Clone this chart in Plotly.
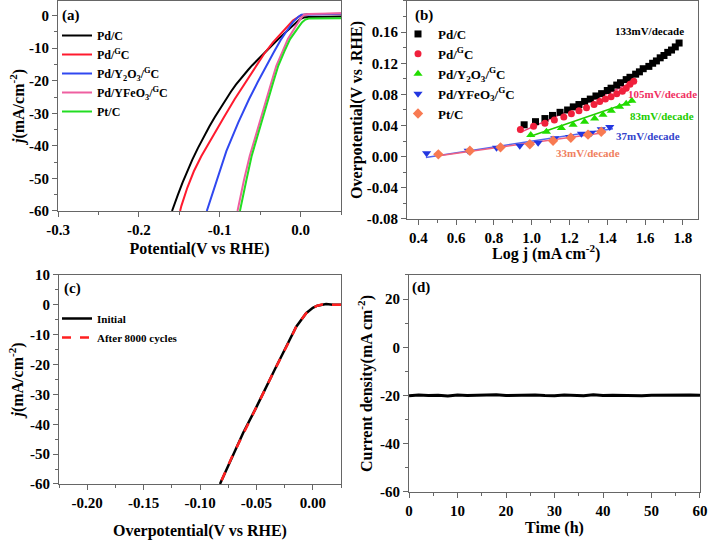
import plotly.graph_objects as go

FONT = "Liberation Serif"

# ---------------- Panel (a): polarization curves ----------------
a_pdc_v = [0.05, 0.03, 0.01, 0.004, 0.0, -0.004, -0.0095, -0.015, -0.020, -0.025, -0.030, -0.035, -0.040, -0.045,
           -0.0507, -0.055, -0.060, -0.065, -0.0713, -0.080, -0.086, -0.0919, -0.100, -0.106, -0.1125, -0.120,
           -0.127, -0.134, -0.140, -0.146, -0.152, -0.158, -0.159]
a_pdc_j = [-0.3, -0.3, -0.4, -0.6, -1.0, -1.8, -3.0, -4.3, -5.5, -6.6, -7.8, -9.0, -10.2, -11.4,
           -12.8, -13.9, -15.3, -16.7, -18.5, -21.2, -23.3, -25.5, -28.6, -31.1, -33.9, -37.3,
           -40.7, -44.3, -47.7, -51.3, -55.2, -59.4, -60]

a_pdgc_v = [0.05, 0.02, 0.008, 0.002, -0.002, -0.0095, -0.0198, -0.0342, -0.045, -0.0548, -0.068, -0.0816,
            -0.095, -0.109, -0.1228, -0.132, -0.140, -0.1475, -0.149]
a_pdgc_j = [0.6, 0.5, 0.4, 0.2, -0.3, -1.5, -4.2, -8.2, -11.7, -15.4, -20.4, -25.7,
            -31.3, -37.1, -43.2, -47.8, -52.8, -58.5, -60]

a_y2o3_v = [0.05, 0.02, 0.006, 0.001, -0.003, -0.0095, -0.0165, -0.0239, -0.033, -0.0424, -0.053, -0.0638,
            -0.077, -0.0918, -0.103, -0.1146, -0.116]
a_y2o3_j = [0.6, 0.5, 0.5, 0.3, -0.4, -2.0, -4.5, -7.2, -11.2, -15.4, -20.4, -25.7,
            -32.8, -41.6, -49.8, -59.0, -60]

a_yfeo3_v = [0.05, 0.02, 0.010, 0.004, 0.000, -0.0053, -0.010, -0.0157, -0.022, -0.030, -0.036, -0.0424,
             -0.052, -0.063, -0.070, -0.0766, -0.078]
a_yfeo3_j = [0.7, 0.6, 0.5, 0.2, -1.0, -3.0, -4.8, -7.2, -10.8, -15.4, -20.4, -25.7,
             -34.0, -43.2, -50.5, -58.8, -60]

a_ptc_v = [0.05, 0.02, 0.010, 0.006, 0.002, -0.001, -0.006, -0.013, -0.020, -0.0276, -0.034, -0.040,
           -0.050, -0.0606, -0.067, -0.0733, -0.075]
a_ptc_j = [-0.8, -0.8, -0.9, -1.2, -2.0, -3.0, -4.8, -7.2, -11.0, -15.4, -20.6, -25.7,
           -34.1, -43.2, -50.5, -58.8, -60]

a_xtickvals = [-0.3, -0.2, -0.1, 0.0]
a_xticktext = ["-0.3", "-0.2", "-0.1", "0.0"]
a_ytickvals = [0, -10, -20, -30, -40, -50, -60]
a_yticktext = ["0", "-10", "-20", "-30", "-40", "-50", "-60"]

# ---------------- Panel (b): Tafel plots ----------------
b_pdc_x = [0.96, 1.02, 1.07, 1.11, 1.15, 1.19, 1.22, 1.25, 1.28, 1.31, 1.34, 1.37, 1.40, 1.42, 1.45,
           1.47, 1.50, 1.52, 1.55, 1.57, 1.59, 1.62, 1.64, 1.66, 1.68, 1.70, 1.72, 1.74, 1.76, 1.78]
b_pdc_y = [0.041, 0.045, 0.049, 0.053, 0.057, 0.060, 0.064, 0.067, 0.071, 0.074, 0.078, 0.081, 0.085, 0.088, 0.092,
           0.095, 0.099, 0.102, 0.106, 0.109, 0.113, 0.116, 0.120, 0.123, 0.127, 0.130, 0.134, 0.137, 0.141, 0.146]

b_pdgc_x = [0.94, 1.01, 1.07, 1.12, 1.17, 1.21, 1.25, 1.29, 1.33, 1.36, 1.39, 1.42, 1.45, 1.48, 1.50, 1.52, 1.54]
b_pdgc_y = [0.035, 0.039, 0.043, 0.047, 0.051, 0.055, 0.059, 0.063, 0.067, 0.071, 0.074, 0.077, 0.081, 0.084, 0.088, 0.093, 0.097]

b_y2o3_x = [0.995, 1.078, 1.157, 1.219, 1.280, 1.333, 1.377, 1.421, 1.465, 1.500, 1.530]
b_y2o3_y = [0.028, 0.032, 0.037, 0.041, 0.045, 0.049, 0.054, 0.059, 0.064, 0.068, 0.072]

b_yfeo3_x = [0.444, 0.664, 0.814, 0.937, 1.034, 1.122, 1.201, 1.263, 1.316, 1.368, 1.413]
b_yfeo3_y = [0.0044, 0.0077, 0.0116, 0.0142, 0.0180, 0.0236, 0.0253, 0.0296, 0.0309, 0.0351, 0.0380]

b_ptc_x = [0.506, 0.673, 0.835, 0.990, 1.113, 1.207, 1.298, 1.368]
b_ptc_y = [0.003, 0.0077, 0.012, 0.0159, 0.0204, 0.0244, 0.0283, 0.0321]

# fitted lines (end points)
b_fit_pdgc_x = [0.937, 1.536]
b_fit_pdgc_y = [0.031, 0.096]
b_fit_y2o3_x = [0.99, 1.53]
b_fit_y2o3_y = [0.026, 0.071]
b_fit_yfeo3_x = [0.44, 1.43]
b_fit_yfeo3_y = [-0.001, 0.036]
b_fit_ptc_x = [0.50, 1.39]
b_fit_ptc_y = [0.001, 0.031]

b_slope_labels = ["133mV/decade", "105mV/decade", "83mV/decade", "37mV/decade", "33mV/decade"]
b_slope_x = [1.624, 1.69, 1.69, 1.616, 1.30]
b_slope_y = [0.1616, 0.080, 0.0523, 0.0266, 0.0050]

b_xtickvals = [0.4, 0.6, 0.8, 1.0, 1.2, 1.4, 1.6, 1.8]
b_xticktext = ["0.4", "0.6", "0.8", "1.0", "1.2", "1.4", "1.6", "1.8"]
b_ytickvals = [-0.08, -0.04, 0.0, 0.04, 0.08, 0.12, 0.16]
b_yticktext = ["-0.08", "-0.04", "0.00", "0.04", "0.08", "0.12", "0.16"]

# ---------------- Panel (c): durability LSV ----------------
c_init_v = [0.025, 0.018, 0.0118, 0.008, 0.004, 0.0, -0.0059, -0.0147, -0.020, -0.0265, -0.0335, -0.0411,
            -0.051, -0.0618, -0.072, -0.0823]
c_init_j = [0.0, 0.0, 0.3, 0.1, -0.3, -1.0, -2.8, -7.3, -11.5, -16.2, -21.5, -27.4,
            -35.0, -42.9, -51.2, -60]
c_after_v = [0.025, 0.018, 0.0118, 0.008, 0.004, 0.0, -0.0059, -0.0147, -0.020, -0.0265, -0.0335, -0.0411,
             -0.051, -0.0618, -0.072, -0.0823]
c_after_j = [0.0, 0.0, 0.2, 0.1, -0.3, -1.0, -2.8, -7.3, -11.5, -16.2, -21.5, -27.4,
             -35.0, -42.9, -51.2, -60]

c_xtickvals = [-0.20, -0.15, -0.10, -0.05, 0.00]
c_xticktext = ["-0.20", "-0.15", "-0.10", "-0.05", "0.00"]
c_ytickvals = [10, 0, -10, -20, -30, -40, -50, -60]
c_yticktext = ["10", "0", "-10", "-20", "-30", "-40", "-50", "-60"]

# ---------------- Panel (d): chronoamperometry ----------------
d_time = [0, 2, 4, 6, 8, 10, 12, 14, 16, 18, 20, 22, 24, 26, 28, 30, 32, 34, 36, 38, 40, 42, 44, 46, 48, 50, 52, 54, 56, 58, 60]
d_current = [-20.1, -19.8, -20.0, -19.9, -20.2, -19.8, -20.0, -19.9, -20.1, -19.7, -20.0, -19.9, -20.1, -19.8, -20.0, -20.1,
             -19.8, -19.9, -20.1, -19.7, -20.0, -19.9, -20.0, -19.8, -20.1, -19.9, -19.8, -20.0, -19.9, -19.8, -19.9]

d_xtickvals = [0, 10, 20, 30, 40, 50, 60]
d_xticktext = ["0", "10", "20", "30", "40", "50", "60"]
d_ytickvals = [20, 0, -20, -40, -60]
d_yticktext = ["20", "0", "-20", "-40", "-60"]

# ------------------------------------------------------------
fig = go.Figure()

# panel a
fig.add_trace(go.Scatter(x=a_pdc_v, y=a_pdc_j, mode="lines", name="Pd/C",
                         line=dict(color="#000000", width=2), xaxis="x", yaxis="y", legend="legend"))
fig.add_trace(go.Scatter(x=a_pdgc_v, y=a_pdgc_j, mode="lines", name="Pd/<sup>G</sup>C",
                         line=dict(color="#ff1a2e", width=2), xaxis="x", yaxis="y", legend="legend"))
fig.add_trace(go.Scatter(x=a_y2o3_v, y=a_y2o3_j, mode="lines", name="Pd/Y<sub>2</sub>O<sub>3</sub>/<sup>G</sup>C",
                         line=dict(color="#3048f0", width=2), xaxis="x", yaxis="y", legend="legend"))
fig.add_trace(go.Scatter(x=a_yfeo3_v, y=a_yfeo3_j, mode="lines", name="Pd/YFeO<sub>3</sub>/<sup>G</sup>C",
                         line=dict(color="#ee5fa0", width=2), xaxis="x", yaxis="y", legend="legend"))
fig.add_trace(go.Scatter(x=a_ptc_v, y=a_ptc_j, mode="lines", name="Pt/C",
                         line=dict(color="#22dd22", width=2), xaxis="x", yaxis="y", legend="legend"))

# panel b fits
for fx, fy, col in [(b_fit_pdgc_x, b_fit_pdgc_y, "#f0407a"), (b_fit_y2o3_x, b_fit_y2o3_y, "#22cc00"),
                    (b_fit_yfeo3_x, b_fit_yfeo3_y, "#5566ee"), (b_fit_ptc_x, b_fit_ptc_y, "#f06080")]:
    fig.add_trace(go.Scatter(x=fx, y=fy, mode="lines", showlegend=False, line=dict(color=col, width=1.5),
                             xaxis="x2", yaxis="y2", hoverinfo="skip"))
# panel b markers
fig.add_trace(go.Scatter(x=b_pdc_x, y=b_pdc_y, mode="markers", name="Pd/C",
                         marker=dict(symbol="square", color="#000000", size=7), xaxis="x2", yaxis="y2", legend="legend2"))
fig.add_trace(go.Scatter(x=b_pdgc_x, y=b_pdgc_y, mode="markers", name="Pd/<sup>G</sup>C",
                         marker=dict(symbol="circle", color="#f0203c", size=7), xaxis="x2", yaxis="y2", legend="legend2"))
fig.add_trace(go.Scatter(x=b_y2o3_x, y=b_y2o3_y, mode="markers", name="Pd/Y<sub>2</sub>O<sub>3</sub>/<sup>G</sup>C",
                         marker=dict(symbol="triangle-up", color="#22dd00", size=8), xaxis="x2", yaxis="y2", legend="legend2"))
fig.add_trace(go.Scatter(x=b_yfeo3_x, y=b_yfeo3_y, mode="markers", name="Pd/YFeO<sub>3</sub>/<sup>G</sup>C",
                         marker=dict(symbol="triangle-down", color="#2236e0", size=8), xaxis="x2", yaxis="y2", legend="legend2"))
fig.add_trace(go.Scatter(x=b_ptc_x, y=b_ptc_y, mode="markers", name="Pt/C",
                         marker=dict(symbol="diamond", color="#f87a52", size=8), xaxis="x2", yaxis="y2", legend="legend2"))

# panel c
fig.add_trace(go.Scatter(x=c_init_v, y=c_init_j, mode="lines", name="Initial",
                         line=dict(color="#000000", width=2.5), xaxis="x3", yaxis="y3", legend="legend3"))
fig.add_trace(go.Scatter(x=c_after_v, y=c_after_j, mode="lines", name="After 8000 cycles",
                         line=dict(color="#ff2020", width=2.5, dash="dash"), xaxis="x3", yaxis="y3", legend="legend3"))

# panel d
fig.add_trace(go.Scatter(x=d_time, y=d_current, mode="lines", showlegend=False,
                         line=dict(color="#000000", width=3), xaxis="x4", yaxis="y4"))

# slope annotations in panel b
slope_colors = ["#000000", "#f03062", "#22cc00", "#3344cc", "#f08060"]
annotations = []
for t, x, y, c in zip(b_slope_labels, b_slope_x, b_slope_y, slope_colors):
    annotations.append(dict(text=t, x=x, y=y, xref="x2", yref="y2", showarrow=False,
                            font=dict(family=FONT, size=11, color=c, weight="bold")))

# panel letters
for t, px, py in [("(a)", 60, 15), ("(b)", 413, 15), ("(c)", 62, 288), ("(d)", 410, 287)]:
    annotations.append(dict(text=t, x=px / 710, y=1 - py / 541, xref="paper", yref="paper", showarrow=False,
                            xanchor="left", yanchor="middle",
                            font=dict(family=FONT, size=15, color="#000000", weight="bold")))

# x-axis title of panel (b), packed tightly under its tick labels as in the original
annotations.append(dict(text="Log j (mA cm<sup>-2</sup>)", x=546 / 710, y=1 - 253 / 541, xref="paper", yref="paper",
                        showarrow=False, xanchor="center", yanchor="middle",
                        font=dict(family=FONT, size=16, color="#000000", weight="bold")))

axis_common = dict(showline=True, linecolor="#666666", linewidth=1, mirror=True, ticks="outside",
                   ticklen=5, tickcolor="#666666", showgrid=False, zeroline=False, automargin=False,
                   tickfont=dict(family=FONT, size=15, color="#000000", weight="bold"),
                   minor=dict(ticks="outside", ticklen=3, tickcolor="#666666", showgrid=False))
title_font = dict(family=FONT, size=16, color="#000000", weight="bold")


def ax(domain, rng, tv, tt, dtick_minor, anchor, title, standoff):
    d = dict(axis_common)
    d.update(domain=domain, range=rng, tickvals=tv, ticktext=tt, anchor=anchor,
             title=dict(text=title, font=title_font, standoff=standoff))
    d["minor"] = dict(axis_common["minor"], dtick=dtick_minor, tick0=0)
    return d


fig.update_layout(
    width=710, height=541,
    margin=dict(l=0, r=0, t=0, b=0, autoexpand=False),
    paper_bgcolor="white", plot_bgcolor="white",
    font=dict(family=FONT, color="#000000", weight="bold"),
    xaxis=ax([0.0817, 0.4803], [-0.3, 0.05], a_xtickvals, a_xticktext, 0.05, "y", "Potential(V vs RHE)", 5),
    yaxis=ax([0.6100, 0.9982], [-60, 4.5], a_ytickvals, a_yticktext, 5, "x", "<i>j</i>(mA/cm<sup>-2</sup>)", 0),
    xaxis2=ax([0.5732, 0.9831], [0.34, 1.88], b_xtickvals, b_xticktext, 0.1, "y2", "", 0),
    yaxis2=ax([0.5952, 0.9982], [-0.08, 0.2], b_ytickvals, b_yticktext, 0.02, "x2", "Overpotential(V vs .RHE)", 0),
    xaxis3=ax([0.0831, 0.4803], [-0.225, 0.025], c_xtickvals, c_xticktext, 0.025, "y3", "Overpotential(V vs RHE)", 14),
    yaxis3=ax([0.1054, 0.4917], [-60, 10], c_ytickvals, c_yticktext, 5, "x3", "<i>j</i>(mA/cm<sup>-2</sup>)", 2),
    xaxis4=ax([0.5761, 0.9859], [0, 60], d_xtickvals, d_xticktext, 5, "y4", "Time (h)", 0),
    yaxis4=ax([0.0906, 0.4917], [-60, 30], d_ytickvals, d_yticktext, 10, "x4", "Current density(mA cm<sup>-2</sup>)", 3),
    legend=dict(x=57 / 710, y=1 - 21 / 541, xanchor="left", yanchor="top", bgcolor="rgba(0,0,0,0)",
                font=dict(family=FONT, size=12, color="#000000", weight="bold"), itemwidth=30, tracegroupgap=0),
    legend2=dict(x=398 / 710, y=1 - 19 / 541, xanchor="left", yanchor="top", bgcolor="rgba(0,0,0,0)",
                 font=dict(family=FONT, size=13, color="#000000", weight="bold"), itemwidth=30),
    legend3=dict(x=57 / 710, y=1 - 304 / 541, xanchor="left", yanchor="top", bgcolor="rgba(0,0,0,0)",
                 font=dict(family=FONT, size=11, color="#000000", weight="bold"), itemwidth=30),
    annotations=annotations,
    showlegend=True,
)

fig.write_html("out.html", config={"displayModeBar": False},
               post_script="document.body.style.margin='0';")
